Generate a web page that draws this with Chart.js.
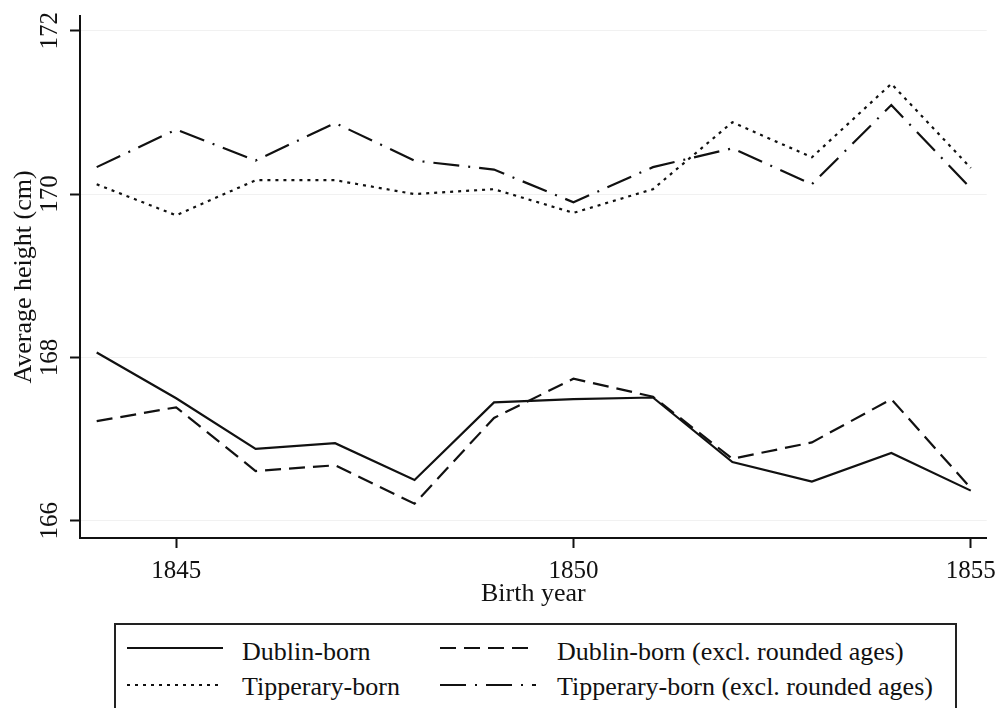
<!DOCTYPE html>
<html>
<head>
<meta charset="utf-8">
<script src="https://cdn.jsdelivr.net/npm/chart.js@4.4.0/dist/chart.umd.min.js"></script>
<style>
  html, body { margin: 0; padding: 0; background: #fff; overflow: hidden; }
  #wrap { position: relative; width: 1004px; height: 708px; }
  #chart { position: absolute; left: 0; top: 0; }
  #legend {
    position: absolute; left: 114px; top: 623px; width: 839px; height: 100px;
    border: 2px solid #222; font-family: "Liberation Serif", "Times New Roman", serif;
    font-size: 26px; color: #111;
  }
  #legend .txt { position: absolute; white-space: nowrap; line-height: 30px; }
  #legend svg { position: absolute; overflow: visible; }
</style>
</head>
<body>
<div id="wrap">
  <canvas id="chart" width="1004" height="620"></canvas>
  <div id="legend"></div>
</div>
<script>
const years = [1844, 1845, 1846, 1847, 1848, 1849, 1850, 1851, 1852, 1853, 1854, 1855];
const dublin =        [168.06, 167.50, 166.88, 166.95, 166.50, 167.45, 167.49, 167.51, 166.72, 166.48, 166.83, 166.37];
const dublinExcl =    [167.22, 167.39, 166.61, 166.68, 166.21, 167.26, 167.74, 167.52, 166.76, 166.96, 167.49, 166.40];
const tipperary =     [170.12, 169.74, 170.17, 170.17, 170.00, 170.06, 169.77, 170.06, 170.88, 170.45, 171.35, 170.32];
const tipperaryExcl = [170.33, 170.79, 170.41, 170.87, 170.41, 170.30, 169.90, 170.33, 170.56, 170.12, 171.09, 170.07];
const xTicks = [1845, 1850, 1855];
const yTicks = [166, 168, 170, 172];

const seriesNames = [
  'Dublin-born',
  'Dublin-born (excl. rounded ages)',
  'Tipperary-born',
  'Tipperary-born (excl. rounded ages)'
];
const seriesValues = [dublin, dublinExcl, tipperary, tipperaryExcl];
const dashes = [[], [16, 8], [3, 5], [26, 9, 2, 9]];

const serif = '"Liberation Serif", "Times New Roman", serif';
const ink = '#111';

const ctx = document.getElementById('chart').getContext('2d');

const datasets = seriesValues.map((vals, i) => ({
  label: seriesNames[i],
  data: years.map((yr, j) => ({ x: yr, y: vals[j] })),
  borderColor: ink,
  borderWidth: 2.2,
  borderDash: dashes[i],
  pointRadius: 0,
  tension: 0,
  fill: false
}));

new Chart(ctx, {
  type: 'line',
  data: { datasets: datasets },
  options: {
    responsive: false,
    animation: false,
    layout: { padding: { top: 14, right: 12, left: 0, bottom: 0 } },
    plugins: {
      legend: { display: false },
      tooltip: { enabled: false }
    },
    scales: {
      x: {
        type: 'linear',
        min: 1843.79,
        max: 1855.2,
        afterBuildTicks: scale => { scale.ticks = xTicks.map(v => ({ value: v })); },
        afterFit: scale => { scale.height = 82; },
        ticks: {
          font: { family: serif, size: 25 },
          color: ink,
          padding: 8,
          maxRotation: 0,
          callback: v => String(v)
        },
        grid: {
          drawOnChartArea: false,
          tickLength: 10,
          tickColor: ink,
          tickWidth: 2
        },
        border: { color: ink, width: 2 },
        title: {
          display: true,
          text: 'Birth year',
          font: { family: serif, size: 26 },
          color: ink,
          padding: { top: 0, bottom: 10 }
        }
      },
      y: {
        min: 165.79,
        max: 172.18,
        afterBuildTicks: scale => { scale.ticks = yTicks.map(v => ({ value: v })); },
        afterFit: scale => { scale.width = 80; },
        ticks: {
          font: { family: serif, size: 25 },
          color: ink,
          minRotation: 90,
          maxRotation: 90,
          crossAlign: 'center',
          padding: 1,
          callback: v => String(v)
        },
        grid: {
          color: '#f1f1f1',
          lineWidth: 1,
          tickLength: 10,
          tickColor: ink,
          tickWidth: 2
        },
        border: { color: ink, width: 2 },
        title: {
          display: true,
          text: 'Average height (cm)',
          font: { family: serif, size: 26 },
          color: ink,
          padding: { top: 9, bottom: 0 }
        }
      }
    }
  }
});

// legend box below the chart, two columns like the original
const legendEl = document.getElementById('legend');
const legendSlots = [
  { lineX: 11, textX: 126, row: 0 },
  { lineX: 324, textX: 441, row: 0 },
  { lineX: 11, textX: 126, row: 1 },
  { lineX: 324, textX: 441, row: 1 }
];
const rowLineY = [23, 60];
const rowTextY = [12, 47];
const sampleLen = 96;

legendSlots.forEach((slot, i) => {
  const svgNS = 'http://www.w3.org/2000/svg';
  const svg = document.createElementNS(svgNS, 'svg');
  svg.setAttribute('width', sampleLen);
  svg.setAttribute('height', 4);
  svg.style.left = slot.lineX + 'px';
  svg.style.top = (rowLineY[slot.row] - 2) + 'px';
  const line = document.createElementNS(svgNS, 'line');
  line.setAttribute('x1', 0);
  line.setAttribute('x2', sampleLen);
  line.setAttribute('y1', 2);
  line.setAttribute('y2', 2);
  line.setAttribute('stroke', ink);
  line.setAttribute('stroke-width', 2);
  if (dashes[i].length) line.setAttribute('stroke-dasharray', dashes[i].join(' '));
  svg.appendChild(line);
  legendEl.appendChild(svg);

  const txt = document.createElement('span');
  txt.className = 'txt';
  txt.textContent = seriesNames[i];
  txt.style.left = slot.textX + 'px';
  txt.style.top = rowTextY[slot.row] + 'px';
  legendEl.appendChild(txt);
});
</script>
</body>
</html>
